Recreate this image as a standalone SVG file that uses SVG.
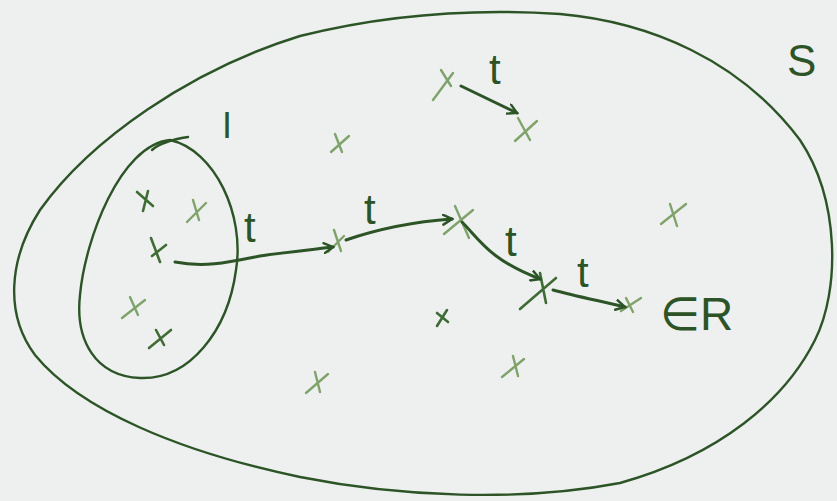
<svg xmlns="http://www.w3.org/2000/svg" width="837" height="501" viewBox="0 0 837 501">
<defs>
<style>
.ln{fill:none;stroke:#2c5426;stroke-width:2.4;stroke-linecap:round;stroke-linejoin:round}
.ar{fill:none;stroke:#2c5426;stroke-width:3;stroke-linecap:round;stroke-linejoin:round}
.xd{fill:none;stroke:#3f6b35;stroke-width:2.6;stroke-linecap:round}
.xl{fill:none;stroke:#7fa36a;stroke-width:2.4;stroke-linecap:round}
.lb{font-family:"Liberation Sans",Arial,sans-serif;fill:#2c5426}
</style>
<marker id="ah" viewBox="0 0 12 12" refX="10" refY="6" markerWidth="12" markerHeight="12" markerUnits="userSpaceOnUse" orient="auto">
<path d="M1,1 L10,6 L1,11" fill="none" stroke="#2c5426" stroke-width="2.4" stroke-linecap="round"/>
</marker>
</defs>
<rect width="837" height="501" fill="#eef0f0"/>
<g id="S">
<path class="ln" d="M300,36 C380,16 470,8 560,14 C650,22 740,60 800,140 C840,200 840,290 815,340 C785,400 720,455 620,483 C520,502 400,497 300,477 C180,452 80,410 35,355 C5,315 8,260 40,210 C90,140 190,70 300,36 Z"/>
<text class="lb" x="787" y="76" font-size="44">S</text>
</g>
<g id="I">
<path class="ln" d="M170,140 C215,150 245,215 236,270 C228,330 190,380 140,378 C95,376 75,340 80,295 C85,240 120,145 170,140 Z"/>
<path class="ln" d="M152,150 C160,143 175,139 188,137"/>
<text class="lb" x="222" y="138" font-size="36">I</text>
</g>
<g id="points">
<path class="xd" d="M137,192 L153,206 M148,191 L143,211"/>
<path class="xl" d="M187,222 L206,203 M193,200 L199,220"/>
<path class="xd" d="M151,238 L160,262 M152,256 L166,245"/>
<path class="xl" d="M122,318 L145,300 M130,297 L138,315"/>
<path class="xd" d="M149,348 L171,330 M156,330 L164,345"/>
<path class="xl" d="M331,152 L349,136 M335,134 L342,152"/>
<path class="xl" d="M433,100 L453,73 M441,70 L451,86"/>
<path class="xl" d="M515,141 L537,121 M518,118 L530,140"/>
<path class="xl" d="M661,224 L686,204 M670,204 L677,226"/>
<path class="xd" d="M437,326 L447,310 M437,313 L448,322"/>
<path class="xl" d="M306,393 L328,374 M315,372 L320,392"/>
<path class="xl" d="M502,377 L524,359 M513,356 L518,376"/>
<path class="xl" d="M328,252 L344,236 M334,230 L341,251"/>
<path class="xl" d="M444,234 L473,210 M455,206 L469,238"/>
<path class="xd" d="M520,309 L556,278 M540,273 L546,303"/>
<path class="xl" d="M621,311 L641,298 M626,298 L633,312"/>
</g>
<g id="connectors">
<path class="ar" marker-end="url(#ah)" d="M175,262 C205,268 230,262 260,256 C285,252 310,250 333,247"/>
<path class="ar" marker-end="url(#ah)" d="M346,240 C375,230 410,222 452,219"/>
<path class="ar" marker-end="url(#ah)" d="M462,222 C480,240 490,260 540,279"/>
<path class="ar" marker-end="url(#ah)" d="M553,290 C575,296 600,301 625,307"/>
<path class="ar" marker-end="url(#ah)" d="M461,86 L517,113"/>
</g>
<g id="labels">
<text class="lb" x="244" y="242" font-size="42">t</text>
<text class="lb" x="364" y="224" font-size="42">t</text>
<text class="lb" x="505" y="256" font-size="42">t</text>
<text class="lb" x="577" y="287" font-size="42">t</text>
<text class="lb" x="489" y="84" font-size="42">t</text>
<text class="lb" x="660" y="330" font-size="46">∈R</text>
</g>
</svg>
